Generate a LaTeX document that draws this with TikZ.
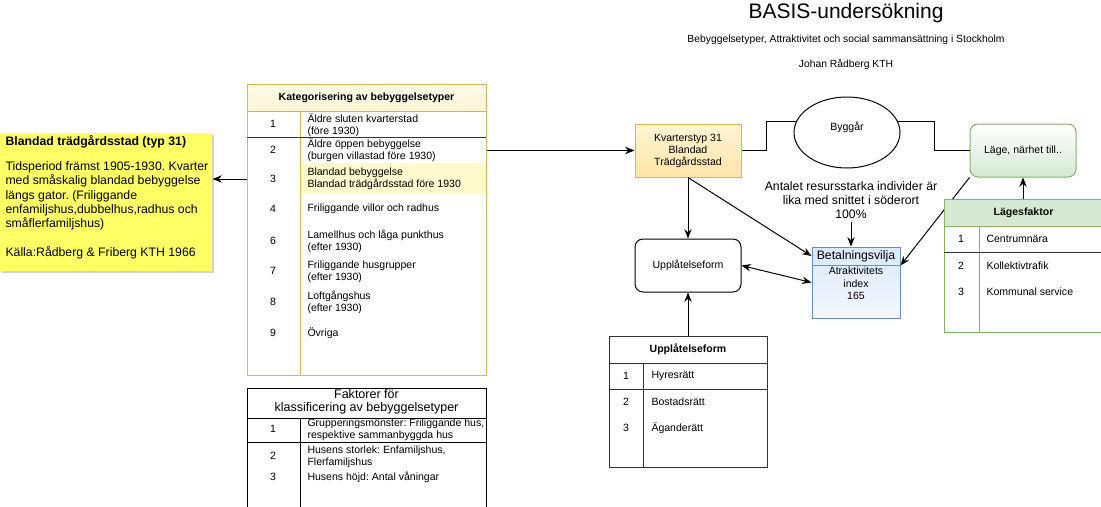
\documentclass[tikz,border=0pt]{standalone}
\usepackage{fontspec}
\setmainfont{Liberation Sans}
\usetikzlibrary{arrows.meta,shapes.geometric,shadows,calc}
\frenchspacing

\definecolor{notgul}{RGB}{255,255,102}
\definecolor{guldkant}{RGB}{214,182,86}
\definecolor{guldljus}{RGB}{255,244,212}
\definecolor{guldmork}{RGB}{255,229,168}
\definecolor{radgul}{RGB}{255,250,205}
\definecolor{gronkant}{RGB}{130,179,102}
\definecolor{gronljus}{RGB}{213,232,212}
\definecolor{blakant}{RGB}{108,142,191}
\definecolor{blaljus}{RGB}{218,232,252}
\definecolor{morklinje}{RGB}{51,51,51}

\tikzset{every picture/.style={line width=0.75pt}}
\tikzset{
  liten/.style={font=\fontsize{7.9}{9}\selectfont},
  litenfet/.style={font=\bfseries\fontsize{7.9}{9}\selectfont},
  celltext/.style={liten, align=left, anchor=west, inner sep=0pt},
  cellnr/.style={liten, inner sep=0pt},
  pil/.style={-{Stealth[length=7pt,width=5.5pt]}},
  dubbelpil/.style={{Stealth[length=7pt,width=5.5pt]}-{Stealth[length=7pt,width=5.5pt]}},
  ruta/.style={draw, inner sep=0pt, minimum width=79.5pt, minimum height=39.75pt, align=center, liten}
}

\begin{document}
\begin{tikzpicture}[x=0.75pt,y=0.75pt,yscale=-1,xscale=1]
	\useasboundingbox (0,0) rectangle (1101,507);
	\fill[white] (0,0) rectangle (1101,507);

	% Text Node
	\node (rubrik) at (846,13) {\fontsize{15.75}{18}\selectfont BASIS-undersökning};
	% Text Node
	\node[font=\fontsize{7.75}{9}\selectfont] (underrubrik) at (846,40) {Bebyggelsetyper, Attraktivitet och social sammansättning i Stockholm};
	% Text Node
	\node[font=\fontsize{7.75}{9}\selectfont] (forfattare) at (846,64) {Johan Rådberg KTH};

	%Shape: Note
	\node[fill=notgul, drop shadow={shadow xshift=1.5pt, shadow yshift=-1.5pt, opacity=0.35}, minimum width=159pt, minimum height=103.5pt, inner sep=0pt] (note) at (106,202) {};
	% Text Node
	\node[anchor=north west, align=left, inner sep=0pt, font=\fontsize{9.2}{10.7}\selectfont] (notetext) at (5,135) {\textbf{Blandad trädgårdsstad (typ 31)}\\[8pt]
		Tidsperiod främst 1905-1930. Kvarter\\
		med småskalig blandad bebyggelse\\
		längs gator. (Friliggande\\
		enfamiljshus,dubbelhus,radhus och\\
		småflerfamiljshus)\\[10.7pt]
		Källa:Rådberg \& Friberg KTH 1966};

	%Shape: Table [Kategorisering]
	\node[draw=guldkant, fill=white, minimum width=179.25pt, minimum height=218.25pt, inner sep=0pt] (kat) at (366.5,229.5) {};
	\fill[radgul] (300.5,163) rectangle (485.5,194);
	\node[draw=guldkant, top color=white!50!guldljus, bottom color=guldljus, minimum width=179.25pt, minimum height=20.25pt, inner sep=0pt, litenfet] (kathuvud) at (366.5,97.5) {Kategorisering av bebyggelsetyper};
	\draw[guldkant] (300,111) -- (300,375);
	\draw[morklinje] (247,137) -- (486,137);
	% Text Node
	\node[cellnr] (k1) at (273,124) {1};
	\node[celltext] (kt1) at (307,125) {Äldre sluten kvarterstad\\(före 1930)};
	\node[cellnr] (k2) at (273,150) {2};
	\node[celltext] (kt2) at (307,150) {Äldre öppen bebyggelse\\(burgen villastad före 1930)};
	\node[cellnr] (k3) at (273,179) {3};
	\node[celltext] (kt3) at (307,178.5) {Blandad bebyggelse\\Blandad trädgårdsstad före 1930};
	\node[cellnr] (k4) at (273,209) {4};
	\node[celltext] (kt4) at (307,209) {Friliggande villor och radhus};
	\node[cellnr] (k6) at (273,241) {6};
	\node[celltext] (kt6) at (307,241) {Lamellhus och låga punkthus\\(efter 1930)};
	\node[cellnr] (k7) at (273,271) {7};
	\node[celltext] (kt7) at (307,271.5) {Friliggande husgrupper\\(efter 1930)};
	\node[cellnr] (k8) at (273,302) {8};
	\node[celltext] (kt8) at (307,302.5) {Loftgångshus\\(efter 1930)};
	\node[cellnr] (k9) at (273,333) {9};
	\node[celltext] (kt9) at (307,333) {Övriga};

	%Shape: Table [Faktorer]
	\node[draw, fill=white, minimum width=179.25pt, minimum height=95.25pt, inner sep=0pt] (faktab) at (366.5,451.5) {};
	\draw (247,418) -- (486,418);
	\draw (247,442) -- (486,442);
	\draw (300,418) -- (300,515);
	% Text Node
	\node[align=center, inner sep=0pt, font=\fontsize{9.4}{9.75}\selectfont] (fakhuvud) at (366.5,402) {Faktorer för\\klassificering av bebyggelsetyper};
	\node[cellnr] (f1) at (273,429) {1};
	\node[celltext] (ft1) at (307,429.5) {Grupperingsmönster: Friliggande hus,\\respektive sammanbyggda hus};
	\node[cellnr] (f2) at (273,456) {2};
	\node[celltext] (ft2) at (307,456.5) {Husens storlek: Enfamiljshus,\\Flerfamiljshus};
	\node[cellnr] (f3) at (273,477) {3};
	\node[celltext] (ft3) at (307,477) {Husens höjd: Antal våningar};

	%Shape: Rectangle [Kvarterstyp]
	\node[ruta, draw=guldkant, top color=guldljus, bottom color=guldmork] (kvarter) at (688,150.5) {Kvarterstyp 31\\Blandad\\Trädgårdsstad};
	%Shape: Ellipse
	\node[draw, ellipse, minimum width=79.5pt, minimum height=53.25pt, inner sep=0pt] (byggar) at (847,132.5) {};
	% Text Node
	\node[liten] (byggtxt) at (847,127) {Byggår};
	%Shape: Rounded Rect [Läge]
	\node[ruta, draw=gronkant, rounded corners=6pt, top color=white, bottom color=gronljus] (lage) at (1023,150.5) {Läge, närhet till..};
	%Shape: Rounded Rect [Upplåtelseform]
	\node[ruta, rounded corners=6pt, fill=white] (uppl) at (688,265.5) {Upplåtelseform};

	% Text Node
	\node[align=center, inner sep=2pt, font=\fontsize{9.2}{10.5}\selectfont] (antal) at (851,200) {Antalet resursstarka individer är\\lika med snittet i söderort\\100\%};

	%Shape: Rectangle [Betalningsvilja]
	\node[draw=blakant, top color=blaljus, bottom color=white!70!blaljus, minimum width=66pt, minimum height=53.25pt, inner sep=0pt] (betal) at (856,282.5) {};
	\node[draw=blakant, minimum width=66pt, minimum height=13.5pt, inner sep=0pt, font=\fontsize{9.2}{10}\selectfont] (betalhuvud) at (856,256) {Betalningsvilja};
	% Text Node
	\node[liten, align=center, inner sep=0pt, font=\fontsize{7.9}{9.4}\selectfont] (betaltxt) at (856,283.5) {Atraktivitets\\index\\165};

	%Straight Lines
	\draw[pil] (kat.east |- kvarter.west) -- (kvarter.west);
	\draw[pil] (kat.west |- k3) -- (note.east |- k3);
	\draw (kvarter.east) -- ++(25,0) |- (byggar.168);
	\draw (lage.west) -- ++(-35,0) |- (byggar.12);
	\draw[pil] (kvarter.south) -- (uppl.north);
	\draw[pil] (kvarter.south) -- (betalhuvud.west);
	\draw[dubbelpil] (uppl.east) -- (betal.west);
	\draw[pil] (antal.south) -- (antal.south |- betalhuvud.north);
	\draw[pil] (lage.south west) -- (betalhuvud.south east);

	%Shape: Table [Lägesfaktor]
	\node[draw=gronkant, fill=white, minimum width=119.25pt, minimum height=99.75pt, inner sep=0pt] (lagtab) at (1023.5,265.5) {};
	\node[draw=gronkant, fill=gronljus, minimum width=119.25pt, minimum height=20.25pt, inner sep=0pt, litenfet] (laghuvud) at (1023.5,212.5) {Lägesfaktor};
	\draw[gronkant] (979,226) -- (979,332);
	\draw[morklinje] (944,252) -- (1103,252);
	% Text Node
	\node[cellnr] (l1) at (961,239) {1};
	\node[celltext] (lt1) at (986,239) {Centrumnära};
	\node[cellnr] (l2) at (961,266) {2};
	\node[celltext] (lt2) at (986,266) {Kollektivtrafik};
	\node[cellnr] (l3) at (961,292) {3};
	\node[celltext] (lt3) at (986,292) {Kommunal service};
	\draw[pil] (lage.south |- lagtab.north) -- (lage.south);

	%Shape: Table [Upplåtelseform]
	\node[draw=morklinje, fill=white, minimum width=118.5pt, minimum height=98.25pt, inner sep=0pt] (upptab) at (688,401.5) {};
	\node[draw=morklinje, minimum width=118.5pt, minimum height=20.25pt, inner sep=0pt, litenfet] (upphuvud) at (688,349.5) {Upplåtelseform};
	\draw[morklinje] (643,363) -- (643,467);
	\draw[morklinje] (609,389) -- (767,389);
	% Text Node
	\node[cellnr] (u1) at (626,376) {1};
	\node[celltext] (ut1) at (651,376) {Hyresrätt};
	\node[cellnr] (u2) at (626,402) {2};
	\node[celltext] (ut2) at (651,402) {Bostadsrätt};
	\node[cellnr] (u3) at (626,428) {3};
	\node[celltext] (ut3) at (651,428) {Äganderätt};
	\draw[pil] (upptab.north) -- (uppl.south);

\end{tikzpicture}
\end{document}
